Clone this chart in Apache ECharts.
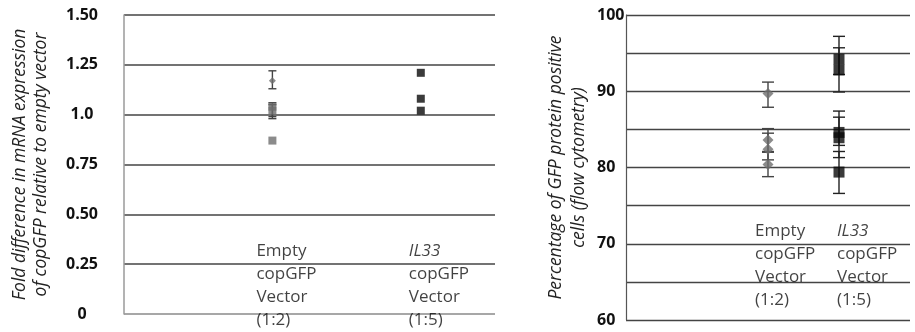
<!DOCTYPE html>
<html>
<head>
<meta charset="utf-8">
<script src="https://cdn.jsdelivr.net/npm/echarts@6/dist/echarts.min.js"></script>
<style>
  html, body { margin: 0; padding: 0; background: #fff; }
  #chart { width: 915px; height: 332px; }
</style>
</head>
<body>
<div id="chart"></div>
<script>
// Groups (plasmid and transfection ratio)
const groupNames = ['Empty', 'IL33'];
const groupDetails = ['copGFP\nVector\n(1:2)', 'copGFP\nVector\n(1:5)'];
const italicGroups = ['IL33'];

// Left panel: fold difference in copGFP mRNA relative to empty vector
const foldTickLabels = ['0', '0.25', '0.50', '0.75', '1.0', '1.25', '1.50'];
const emptyFold = [1.17, 1.04, 1.02, 0.87];
const emptyFoldLow = [1.13, 0.99, 0.98, null];
const emptyFoldHigh = [1.22, 1.06, 1.05, null];
const il33Fold = [1.21, 1.08, 1.02];

// Right panel: percentage of GFP-positive cells (flow cytometry)
const pctTickLabels = ['60', '70', '80', '90', '100'];
const emptyPct = [89.7, 83.6, 82.4, 80.4];
const emptyPctLow = [87.9, 82.1, 81.0, 78.8];
const emptyPctHigh = [91.2, 85.1, 84.5, 82.0];
const il33Pct = [94.2, 92.8, 84.6, 83.9, 79.4];
const il33PctLow = [92.2, 89.9, 82.9, 81.3, 76.6];
const il33PctHigh = [97.2, 95.7, 87.4, 86.6, 82.1];

const FONT = '"Open Sans", "DejaVu Sans", sans-serif';
const GREY = '#6e6e6e';
const BLACK = '#0a0a0a';

function points(groupIndex, values) {
  return values.map(v => [groupIndex, v]);
}
function bars(groupIndex, lows, highs) {
  const out = [];
  lows.forEach((lo, i) => {
    if (lo != null && highs[i] != null) out.push([groupIndex, lo, highs[i]]);
  });
  return out;
}

function errorBar(color, capHalf) {
  return function (params, api) {
    const x = api.value(0), lo = api.value(1), hi = api.value(2);
    const a = api.coord([x, lo]), b = api.coord([x, hi]);
    const style = { stroke: color, lineWidth: 1.4 };
    return {
      type: 'group',
      children: [
        { type: 'line', shape: { x1: a[0], y1: a[1], x2: b[0], y2: b[1] }, style },
        { type: 'line', shape: { x1: a[0] - capHalf, y1: a[1], x2: a[0] + capHalf, y2: a[1] }, style },
        { type: 'line', shape: { x1: b[0] - capHalf, y1: b[1], x2: b[0] + capHalf, y2: b[1] }, style }
      ]
    };
  };
}

function groupLabel(idx) {
  const head = italicGroups.includes(groupNames[idx])
    ? '{i|' + groupNames[idx] + '}' : '{n|' + groupNames[idx] + '}';
  return head + '\n' + groupDetails[idx].split('\n').map(s => '{n|' + s + '}').join('\n');
}
const labelRich = {
  n: { fontFamily: FONT, fontSize: 17, color: '#111', lineHeight: 23 },
  i: { fontFamily: FONT, fontSize: 17, color: '#111', lineHeight: 23, fontStyle: 'italic' }
};

function labelSeries(xAxisIndex, yAxisIndex, yValue, offsets) {
  return {
    type: 'scatter', xAxisIndex, yAxisIndex, symbolSize: 0, silent: true, z: 5,
    data: groupNames.map((g, i) => ({
      value: [i, yValue],
      label: { position: [offsets[i], 0] }
    })),
    label: {
      show: true, align: 'left', verticalAlign: 'top',
      formatter: p => groupLabel(p.dataIndex),
      rich: labelRich
    }
  };
}

const chart = echarts.init(document.getElementById('chart'), null, { renderer: 'canvas' });

chart.setOption({
  animation: false,
  backgroundColor: '#fff',
  grid: [
    { left: 124, right: 420, top: 15, bottom: 18, containLabel: false, outerBoundsMode: 'none' },
    { left: 626, right: 5, top: 15, bottom: 12, containLabel: false, outerBoundsMode: 'none' }
  ],
  xAxis: [
    { type: 'value', gridIndex: 0, min: -1, max: 1.5, show: false },
    { type: 'value', gridIndex: 1, min: -2, max: 2, show: false }
  ],
  yAxis: [
    {
      type: 'value', gridIndex: 0, min: 0, max: 1.5, interval: 0.25,
      axisLine: { show: true, onZero: false, lineStyle: { color: '#9a9a9a', width: 1.5 } },
      axisTick: { show: false },
      splitLine: {
        lineStyle: { color: ['#8a8a8a', '#444', '#444', '#444', '#444', '#444', '#444'], width: 1.6 }
      },
      axisLabel: {
        margin: 42, align: 'center', fontFamily: FONT, fontSize: 16, fontWeight: 'bold', color: '#111',
        formatter: v => foldTickLabels[Math.round(v / 0.25)]
      },
      name: 'Fold difference in mRNA expression\nof copGFP relative to empty vector',
      nameLocation: 'middle', nameRotate: 90, nameGap: 72,
      nameTextStyle: { fontFamily: FONT, fontSize: 17.5, fontStyle: 'italic', color: '#222', lineHeight: 21 }
    },
    {
      type: 'value', gridIndex: 1, min: 60, max: 100, interval: 5,
      axisLine: { show: true, onZero: false, lineStyle: { color: '#555', width: 1.2 } },
      axisTick: { show: false },
      splitLine: { lineStyle: { color: '#444', width: 1.3 } },
      axisLabel: {
        margin: 29, align: 'left', fontFamily: FONT, fontSize: 16, fontWeight: 'bold', color: '#111',
        formatter: v => (v % 10 === 0 ? pctTickLabels[(v - 60) / 10] : '')
      },
      name: 'Percentage of GFP protein positive\ncells (flow cytometry)',
      nameLocation: 'middle', nameRotate: 90, nameGap: 35,
      nameTextStyle: { fontFamily: FONT, fontSize: 17.5, fontStyle: 'italic', color: '#222', lineHeight: 23 }
    }
  ],
  series: [
    // left panel
    {
      type: 'custom', xAxisIndex: 0, yAxisIndex: 0, z: 3,
      renderItem: errorBar('#444', 4), encode: { x: 0, y: [1, 2] },
      data: bars(0, emptyFoldLow, emptyFoldHigh)
    },
    {
      type: 'scatter', xAxisIndex: 0, yAxisIndex: 0, z: 4,
      symbol: (v, p) => (p.dataIndex === 0 ? 'diamond' : 'rect'),
      symbolSize: (v, p) => (p.dataIndex === 0 ? 7 : 8),
      itemStyle: { color: GREY },
      data: points(0, emptyFold)
    },
    {
      type: 'scatter', xAxisIndex: 0, yAxisIndex: 0, z: 4,
      symbol: 'rect', symbolSize: 8, itemStyle: { color: BLACK },
      data: points(1, il33Fold)
    },
    labelSeries(0, 0, 0.375, [-16, -12]),
    // right panel
    {
      type: 'custom', xAxisIndex: 1, yAxisIndex: 1, z: 3,
      renderItem: errorBar('#444', 6), encode: { x: 0, y: [1, 2] },
      data: bars(0, emptyPctLow, emptyPctHigh)
    },
    {
      type: 'custom', xAxisIndex: 1, yAxisIndex: 1, z: 3,
      renderItem: errorBar('#222', 6), encode: { x: 0, y: [1, 2] },
      data: bars(1, il33PctLow, il33PctHigh)
    },
    {
      type: 'scatter', xAxisIndex: 1, yAxisIndex: 1, z: 4,
      symbol: 'diamond', symbolSize: 11, itemStyle: { color: GREY },
      data: points(0, emptyPct)
    },
    {
      type: 'scatter', xAxisIndex: 1, yAxisIndex: 1, z: 4,
      symbol: 'rect', symbolSize: 11, itemStyle: { color: BLACK },
      data: points(1, il33Pct)
    },
    labelSeries(1, 1, 73.2, [-13, -2])
  ]
});
</script>
</body>
</html>
